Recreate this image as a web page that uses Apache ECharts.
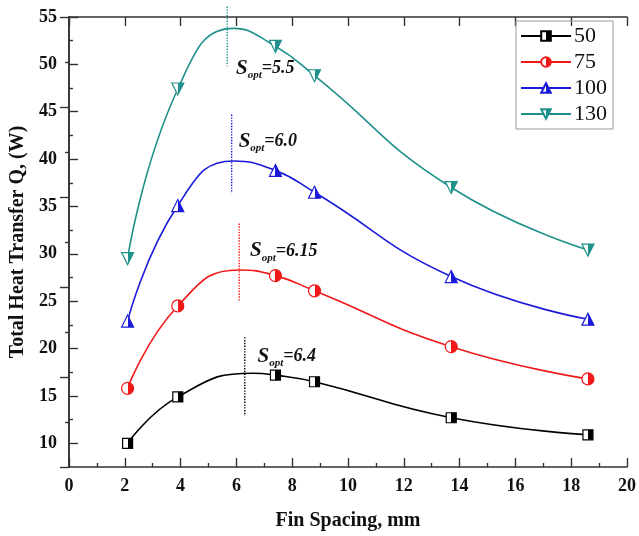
<!DOCTYPE html>
<html>
<head>
<meta charset="utf-8">
<script src="https://cdn.jsdelivr.net/npm/echarts@6/dist/echarts.min.js"></script>
<style>
  html, body { margin: 0; padding: 0; background: #fff; }
  #chart { width: 639px; height: 536px; }
</style>
</head>
<body>
<div id="chart"></div>
<script>
const finSpacing = [2.1, 3.9, 7.4, 8.8, 13.7, 18.6];
const q50 = [10.0, 14.9, 17.2, 16.5, 12.7, 10.9];
const q75 = [15.8, 24.5, 27.7, 26.1, 20.2, 16.8];
const q100 = [22.9, 35.1, 38.8, 36.5, 27.6, 23.1];
const q130 = [29.5, 47.4, 51.9, 48.8, 37.0, 30.4];

// crest of each drawn curve (no marker there)
const crestX = [6.6, 6.1, 5.9, 5.9];
const crestY = [17.4, 28.3, 39.8, 53.8];

// S_opt dotted markers and their labels
const soptText = ["6.4", "6.15", "6.0", "5.5"];
const soptX = [6.3, 6.1, 5.83, 5.67];
const soptTop = [21.2, 33.2, 44.7, 56.1];
const soptBottom = [12.9, 25.0, 36.4, 49.8];
const soptLabelX = [6.76, 6.49, 6.08, 5.99];
const soptLabelY = [19.2, 30.3, 41.9, 49.6];

const yMajor = [10, 15, 20, 25, 30, 35, 40, 45, 50, 55];
const yMinor = [12.5, 17.5, 22.5, 27.5, 32.5, 37.5, 42.5, 47.5, 52.5];

const SERIES = [
  { name: "50", values: q50, color: "#000000", symbol: "rect", size: 10 },
  { name: "75", values: q75, color: "#f01818", symbol: "circle", size: 12 },
  { name: "100", values: q100, color: "#1a1ad8", symbol: "triangle", size: 12 },
  { name: "130", values: q130, color: "#1f918a", symbol: "path://M0,0 L2,0 L1,2 Z", size: 12 },
];

const FONT = "'Liberation Serif', 'Times New Roman', serif";

const halfFill = (color) => ({
  type: "linear",
  x: 0, y: 0, x2: 1, y2: 0,
  colorStops: [
    { offset: 0, color: "#ffffff" },
    { offset: 0.5, color: "#ffffff" },
    { offset: 0.5, color },
    { offset: 1, color },
  ],
});

const chart = echarts.init(document.getElementById("chart"));

const curveSeries = SERIES.map((s, i) => {
  const pts = finSpacing.map((x, j) => [x, s.values[j]]);
  pts.push({ value: [crestX[i], crestY[i]], symbol: "none" });
  pts.sort((a, b) => (a.value || a)[0] - (b.value || b)[0]);
  return {
    type: "line",
    name: s.name,
    data: pts,
    smooth: 0.5,
    clip: false,
    symbol: s.symbol,
    symbolSize: s.size,
    lineStyle: { color: s.color, width: 1.6 },
    itemStyle: { color: halfFill(s.color), borderColor: s.color, borderWidth: 1.2 },
    emphasis: { disabled: true },
    z: 3,
    markPoint: {
      silent: true,
      symbol: "circle",
      symbolSize: 0,
      data: [{
        coord: [soptLabelX[i], soptLabelY[i]],
        label: {
          show: true,
          position: "right",
          distance: 0,
          formatter: `{s|S}{o|opt}{e|=${soptText[i]}}`,
          rich: {
            s: { fontFamily: FONT, fontSize: 21, fontWeight: "bold", fontStyle: "italic", color: "#111" },
            o: { fontFamily: FONT, fontSize: 11, fontWeight: "bold", fontStyle: "italic", color: "#111", padding: [14, 0, 0, 0] },
            e: { fontFamily: FONT, fontSize: 18, fontWeight: "bold", fontStyle: "italic", color: "#111" },
          },
        },
      }],
    },
  };
});

// dotted S_opt lines, one per curve
const soptSeries = SERIES.map((s, i) => ({
  type: "line",
  name: "sopt-" + s.name,
  data: [[soptX[i], soptTop[i]], [soptX[i], soptBottom[i]]],
  clip: false,
  silent: true,
  symbol: "none",
  lineStyle: { color: s.color, type: "dotted", width: 1.4 },
  emphasis: { disabled: true },
  z: 2,
}));

const axisLine = { show: true, lineStyle: { color: "#333", width: 1.6 } };
const tickStyle = { color: "#333", width: 1.4 };

const option = {
  backgroundColor: "#fff",
  animation: false,
  grid: { left: 69, right: 10, top: 17, bottom: 67 },
  legend: {
    orient: "vertical",
    left: 516,
    top: 21,
    padding: [4, 6, 4, 4],
    itemGap: 4,
    itemWidth: 50,
    itemHeight: 12,
    borderColor: "#999",
    borderWidth: 1,
    textStyle: { fontFamily: FONT, fontSize: 22, color: "#111", padding: [0, 0, 0, -2] },
    data: SERIES.map((s) => s.name),
  },
  xAxis: [
    {
      type: "value",
      position: "bottom",
      min: 0, max: 20, interval: 2,
      axisLine,
      axisTick: { show: true, inside: true, length: 9, lineStyle: tickStyle },
      minorTick: { show: true, splitNumber: 2, length: 4, lineStyle: tickStyle },
      splitLine: { show: false },
      axisLabel: { fontFamily: FONT, fontSize: 18, fontWeight: "bold", color: "#111", margin: 10 },
      name: "Fin Spacing, mm",
      nameLocation: "middle",
      nameGap: 44,
      nameTextStyle: { fontFamily: FONT, fontSize: 20, fontWeight: "bold", color: "#111" },
    },
    {
      type: "value",
      position: "top",
      min: 0, max: 20, interval: 2,
      axisLine,
      axisTick: { show: true, inside: true, length: 9, lineStyle: tickStyle },
      axisLabel: { show: false },
      splitLine: { show: false },
    },
  ],
  yAxis: [
    {
      type: "value",
      position: "left",
      min: 7.5, max: 55, interval: 2.5,
      axisLine,
      axisTick: { show: true, inside: true, length: 9, customValues: yMajor, lineStyle: tickStyle },
      axisLabel: { customValues: yMajor, fontFamily: FONT, fontSize: 18, fontWeight: "bold", color: "#111", margin: 12 },
      splitLine: { show: false },
      name: "Total Heat Transfer Q, (W)",
      nameLocation: "middle",
      nameRotate: 90,
      nameGap: 40,
      nameTextStyle: { fontFamily: FONT, fontSize: 20, fontWeight: "bold", color: "#111" },
    },
    {
      type: "value",
      position: "right",
      min: 0, max: 10, interval: 2,
      axisLine,
      axisTick: { show: true, inside: true, length: 9, lineStyle: tickStyle },
      minorTick: { show: true, splitNumber: 2, length: 4, lineStyle: tickStyle },
      axisLabel: { show: false },
      splitLine: { show: false },
    },
    {
      type: "value",
      position: "left",
      offset: 0,
      min: 7.5, max: 55, interval: 2.5,
      axisLine: { show: false },
      axisTick: { show: true, inside: true, length: 4, customValues: yMinor, lineStyle: tickStyle },
      axisLabel: { show: false },
      splitLine: { show: false },
    },
  ],
  series: [...soptSeries, ...curveSeries],
};

chart.setOption(option);
</script>
</body>
</html>
